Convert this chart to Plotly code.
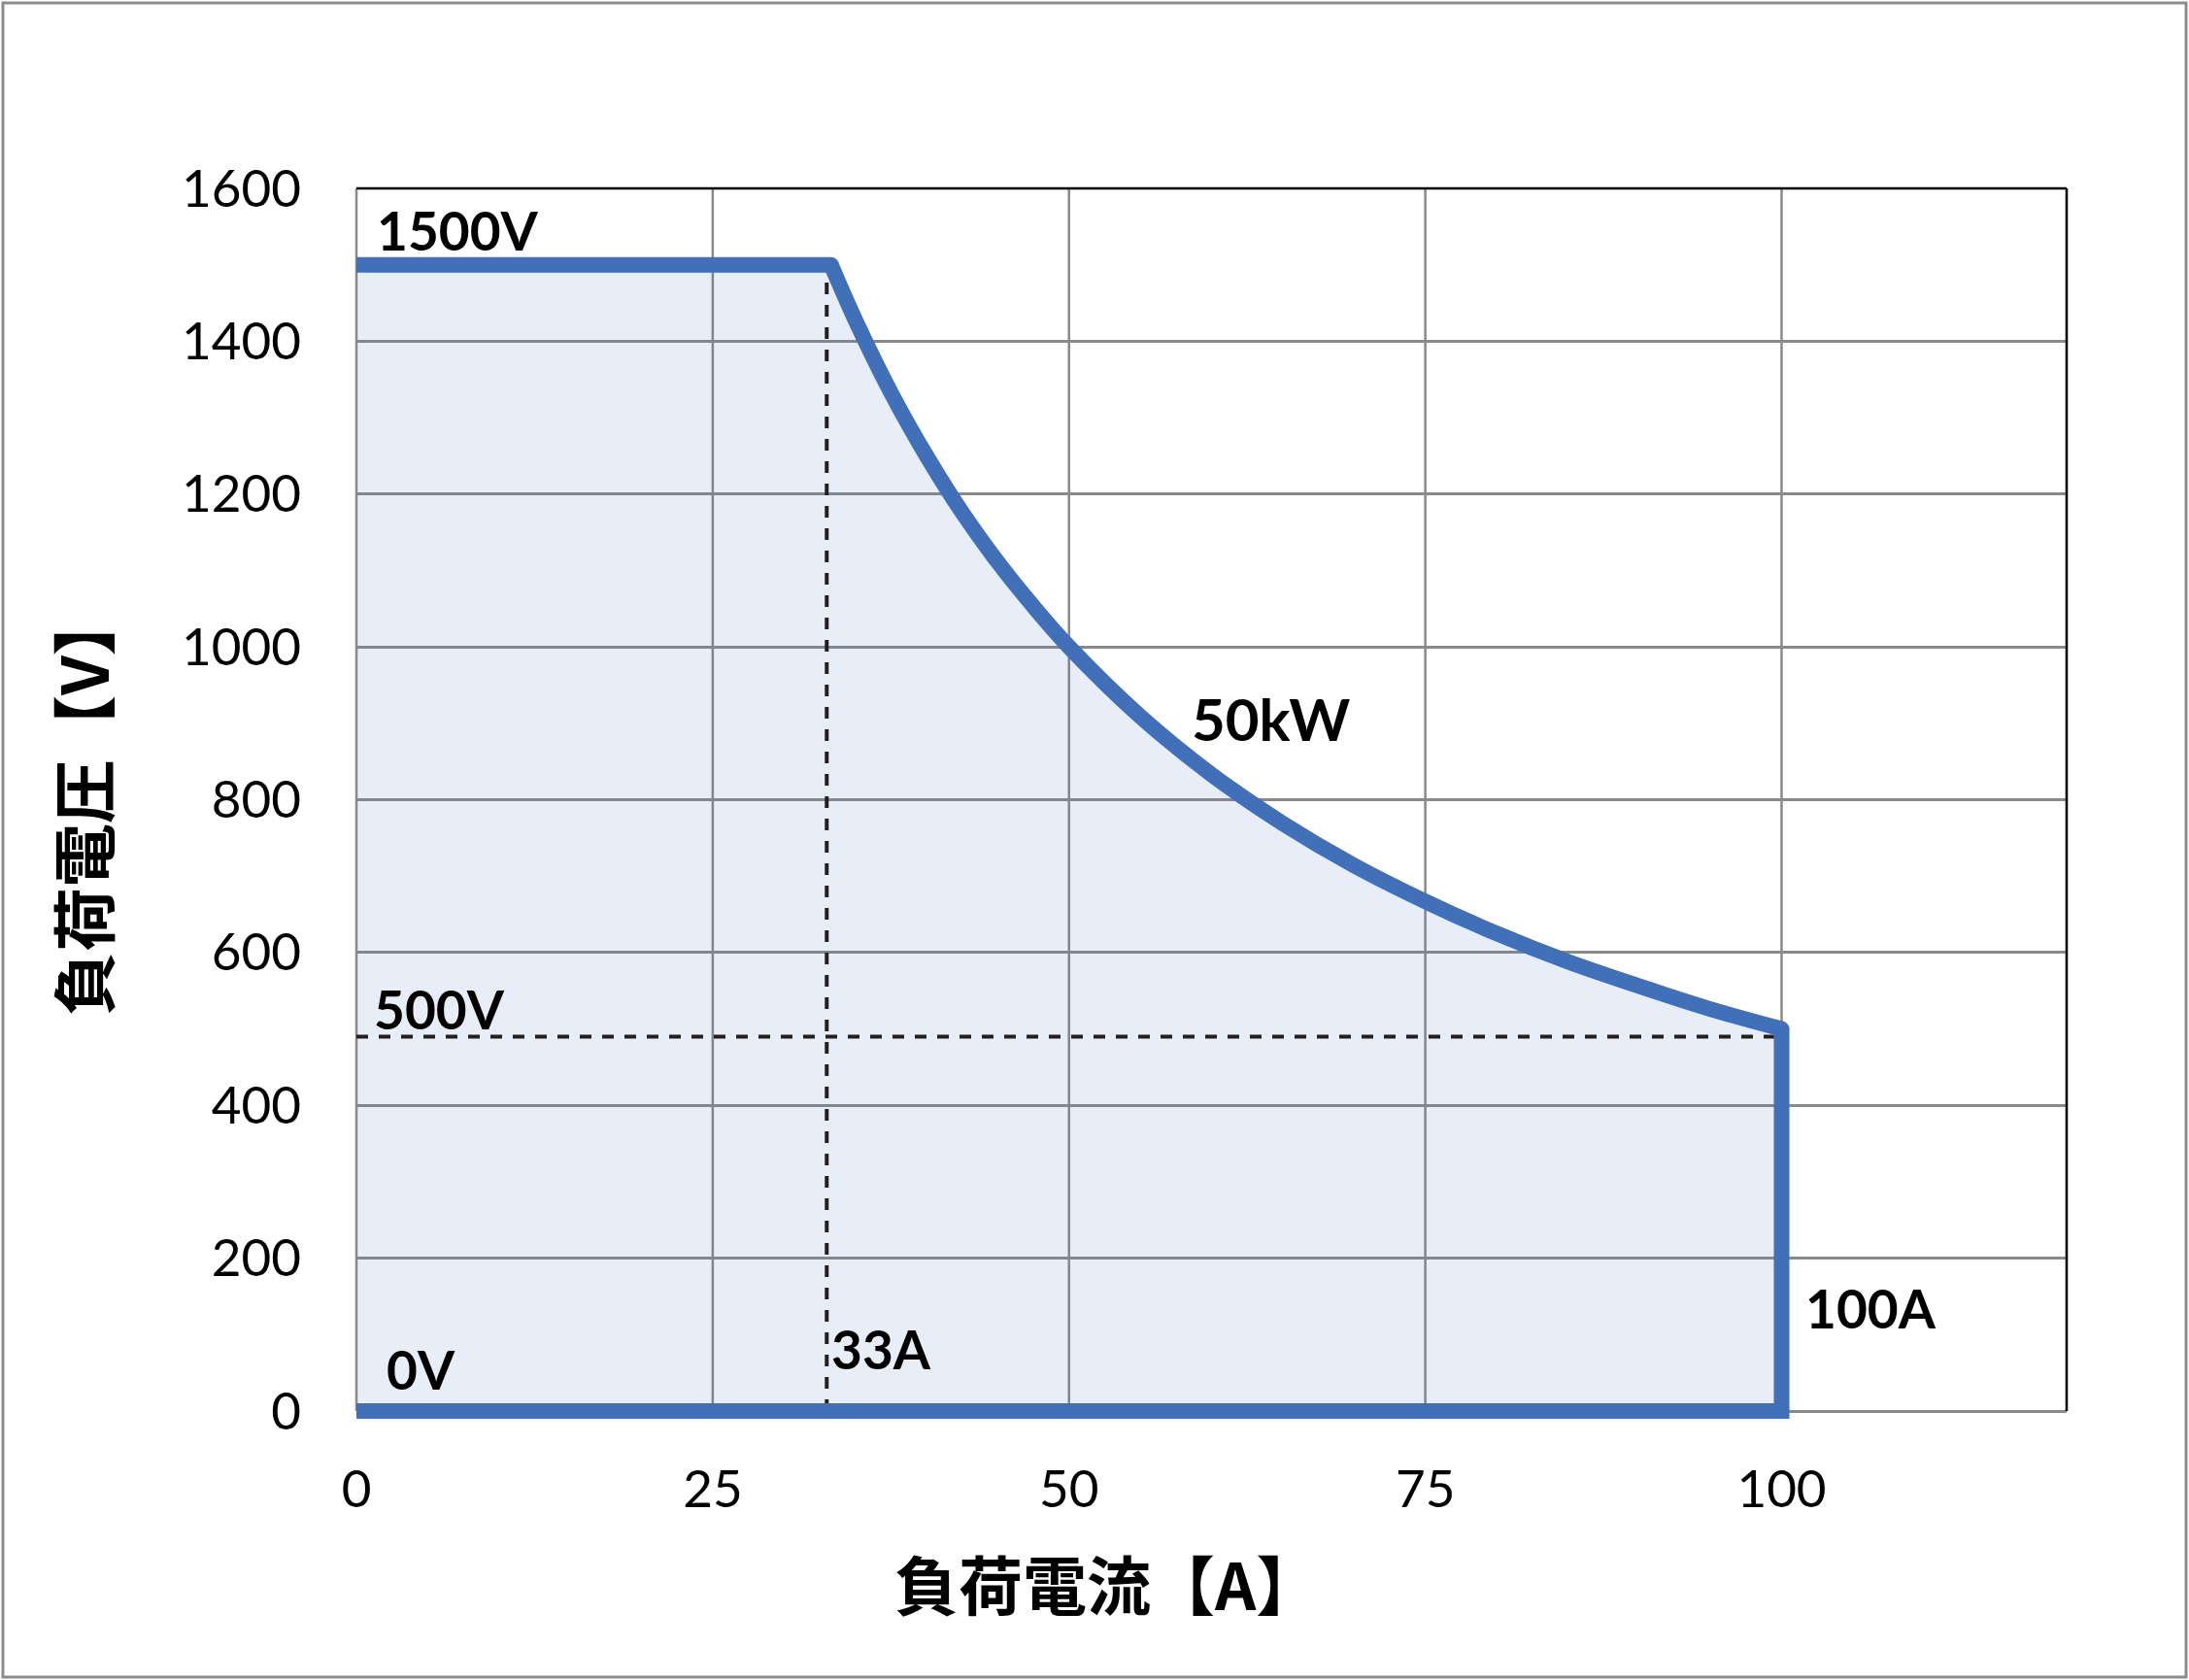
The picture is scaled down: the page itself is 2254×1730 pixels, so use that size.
import plotly.graph_objects as go

# ---- data ----
# boundary of the operating area (current [A], voltage [V])
flat_a = [0, 33.3]
flat_v = [1500, 1500]
curve_a = [33.3, 35, 37.5, 40, 42.5, 45, 47.5, 50, 55, 60, 65, 70, 75, 80, 85, 90, 95, 100]
curve_v = [1500, 1428, 1333, 1250, 1176, 1111, 1053, 1000, 909, 833, 769, 714, 667, 625, 588, 556, 526, 500]
edge_a = [100, 100, 0]
edge_v = [500, 0, 0]
corner_a = [33.3, 100, 100]
corner_v = [1500, 500, 0]

ref_33a_x = [33, 33]
ref_33a_y = [0, 1500]
ref_500v_x = [0, 100]
ref_500v_y = [490, 490]

x_ticks = [0, 25, 50, 75, 100]
y_ticks = [0, 200, 400, 600, 800, 1000, 1200, 1400, 1600]
x_grid = [25, 50, 75, 100]

labels_text = ["1500V", "500V", "0V", "33A", "100A", "50kW"]
labels_x = [1.3, 1.1, 2.0, 33.2, 101.5, 58.5]
labels_y = [1545, 526, 55, 81, 135, 906]

x_title = "負荷電流【A】"
y_title = "負荷電圧【V】"

# ---- layout geometry ----
FW, FH = 2254, 1730
ML, MR, MT, MB = 367, 126, 194, 267
X_RANGE = [0, 120]
Y_RANGE = [-12.7, 1600]
PW = FW - ML - MR
PH = FH - MT - MB


def px_x(px):
    return (px - ML) / PW


def px_y(py):
    return (FH - MB - py) / PH


y0_paper = (0 - Y_RANGE[0]) / (Y_RANGE[1] - Y_RANGE[0])

BLUE = "#4170B8"
GRID = "#8a8a8a"
LW = 16
NUM_FONT = "Lato"
CJK_FONT = "Noto Sans CJK JP"

fig = go.Figure()

# filled operating area (fill only)
area_a = flat_a + curve_a[1:] + edge_a[1:]
area_v = flat_v + curve_v[1:] + edge_v[1:]
fig.add_trace(go.Scatter(x=area_a, y=area_v, mode="lines", fill="toself",
                         fillcolor="rgba(68,114,196,0.12)", line=dict(width=0),
                         hoverinfo="skip", showlegend=False))

# dashed reference lines
for dx, dy in ((ref_33a_x, ref_33a_y), (ref_500v_x, ref_500v_y)):
    fig.add_trace(go.Scatter(x=dx, y=dy, mode="lines",
                             line=dict(color="#231f20", width=4, dash="12px,11px"),
                             hoverinfo="skip", showlegend=False))

# boundary lines
fig.add_trace(go.Scatter(x=flat_a, y=flat_v, mode="lines",
                         line=dict(color=BLUE, width=LW), hoverinfo="skip", showlegend=False))
fig.add_trace(go.Scatter(x=curve_a, y=curve_v, mode="lines",
                         line=dict(color=BLUE, width=LW, shape="spline", smoothing=1),
                         hoverinfo="skip", showlegend=False))
fig.add_trace(go.Scatter(x=edge_a, y=edge_v, mode="lines",
                         line=dict(color=BLUE, width=LW), hoverinfo="skip", showlegend=False))
# rounded joins at the corners
fig.add_trace(go.Scatter(x=corner_a, y=corner_v, mode="markers",
                         marker=dict(color=BLUE, size=LW, line=dict(width=0)),
                         cliponaxis=False, hoverinfo="skip", showlegend=False))

shapes = []
for gx in x_grid:
    shapes.append(dict(type="line", xref="x", yref="y", x0=gx, x1=gx, y0=0, y1=1600,
                       line=dict(color=GRID, width=2.5), layer="below"))
shapes.append(dict(type="line", xref="paper", yref="paper", x0=0, x1=0, y0=y0_paper, y1=1,
                   line=dict(color=GRID, width=2.5), layer="below"))
shapes.append(dict(type="line", xref="paper", yref="paper", x0=0, x1=1, y0=1, y1=1,
                   line=dict(color="black", width=2.5), layer="above"))
shapes.append(dict(type="line", xref="paper", yref="paper", x0=1, x1=1, y0=y0_paper, y1=1,
                   line=dict(color="black", width=2.5), layer="above"))
shapes.append(dict(type="rect", xref="paper", yref="paper",
                   x0=px_x(3), x1=px_x(2251), y0=px_y(1727), y1=px_y(3),
                   line=dict(color="#8c8c8c", width=3), fillcolor="rgba(0,0,0,0)", layer="above"))

annotations = []
for t, ax_, ay_ in zip(labels_text, labels_x, labels_y):
    annotations.append(dict(text=t, x=ax_, y=ay_, xref="x", yref="y", xanchor="left",
                            yanchor="middle", showarrow=False,
                            font=dict(family=NUM_FONT, size=55 if t != "50kW" else 60,
                                      color="black", weight="bold")))

annotations.append(dict(text=x_title, x=px_x(1140), y=px_y(1629), xref="paper", yref="paper",
                        xanchor="center", yanchor="middle", showarrow=False,
                        font=dict(family=CJK_FONT, size=66, color="black", weight="bold")))
annotations.append(dict(text=y_title, x=px_x(83), y=px_y(828), xref="paper", yref="paper",
                        xanchor="center", yanchor="middle", showarrow=False, textangle=-90,
                        font=dict(family=CJK_FONT, size=66, color="black", weight="bold")))

fig.update_layout(
    width=FW, height=FH,
    margin=dict(l=ML, r=MR, t=MT, b=MB, pad=0),
    paper_bgcolor="white", plot_bgcolor="white",
    shapes=shapes, annotations=annotations,
    xaxis=dict(range=X_RANGE, tickvals=x_ticks, ticktext=[str(v) for v in x_ticks],
               showgrid=False, zeroline=False, showline=False, ticks="",
               ticklabelstandoff=35,
               tickfont=dict(family=NUM_FONT, size=53, color="black")),
    yaxis=dict(range=Y_RANGE, tickvals=y_ticks, ticktext=[str(v) for v in y_ticks],
               showgrid=True, gridcolor=GRID, gridwidth=2.5, zeroline=False,
               showline=False, ticks="", ticklabelstandoff=56,
               tickfont=dict(family=NUM_FONT, size=53, color="black")),
)

fig.write_html("out.html", config={"displayModeBar": False},
               post_script="document.body.style.margin='0';")
